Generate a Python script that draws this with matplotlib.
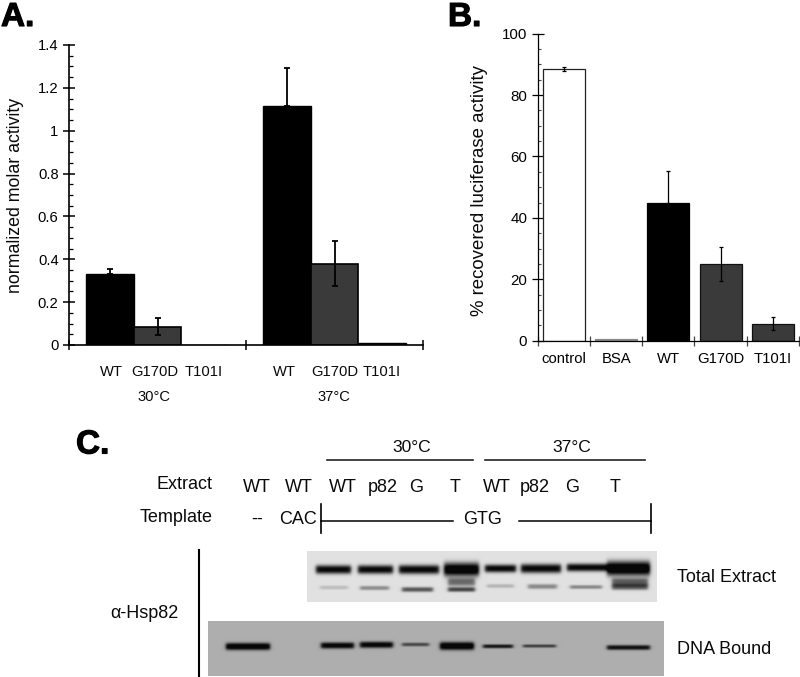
import numpy as np
import matplotlib
matplotlib.use("Agg")
import matplotlib.pyplot as plt
from matplotlib.ticker import MultipleLocator, FixedLocator, FixedFormatter
import matplotlib.patheffects as pe

plt.rcParams['font.family'] = ['Liberation Sans', 'DejaVu Sans']

W, H = 800, 677

# Panel A data
a_wt = [0.33, 1.115]
a_g170d = [0.085, 0.38]
a_t101i = [0.0, 0.01]
a_wt_err = [0.025, 0.18]
a_g170d_err = [0.04, 0.105]
a_ticks = [0, 0.2, 0.4, 0.6, 0.8, 1.0, 1.2, 1.4]
a_ticklabels = ['0', '0.2', '0.4', '0.6', '0.8', '1', '1.2', '1.4']
a_bar_labels = ['WT', 'G170D', 'T101I', 'WT', 'G170D', 'T101I']
a_bar_label_x = [111, 155, 204, 284, 335, 381.7]
a_temps = ['30°C', '37°C']
a_temp_x = [154, 334]

# Panel B data
b_cats = ['control', 'BSA', 'WT', 'G170D', 'T101I']
b_vals = [88.5, 0.5, 44.8, 25.0, 5.6]
b_errs = [0.5, 0.0, 10.5, 5.5, 2.2]
b_colors = ['white', '#8a8a8a', 'black', '#3a3a3a', '#3a3a3a']
b_ticks = [0, 20, 40, 60, 80, 100]

# Panel C labels
c_extract = ['WT', 'WT', 'WT', 'p82', 'G', 'T', 'WT', 'p82', 'G', 'T']
c_extract_x = [256.7, 299, 342.7, 382.7, 416, 455, 496.7, 534.3, 572, 615]

# Blot bands: x0, x1, y centre, half height, strength
total_bands = [
    (316, 351, 569.5, 4.4, 1.0), (358, 393, 569.5, 4.4, 1.0), (399, 439, 569.5, 4.6, 1.0),
    (444, 479, 569.5, 6.8, 1.15), (485, 516, 568.5, 4.0, 1.0), (521, 561, 568.5, 4.6, 1.0),
    (567, 607, 567.5, 4.0, 1.0), (607, 650, 568.5, 7.2, 1.2),
    (320, 348, 587.5, 2.0, 0.16), (360, 389, 588, 2.2, 0.38), (402, 433, 589.5, 2.5, 0.62),
    (448, 475, 582, 4.2, 0.55), (448, 475, 589.5, 2.4, 0.7),
    (487, 514, 586, 2.0, 0.2), (528, 557, 586.5, 2.5, 0.4), (570, 602, 587, 2.0, 0.4),
    (612, 648, 582, 4.0, 0.6), (612, 648, 587, 3.0, 0.6),
]
dna_bands = [
    (226, 270, 646.5, 3.6, 1.15), (321, 354, 645.5, 3.2, 1.05), (360, 393, 644.8, 3.2, 1.05),
    (402, 429, 644.5, 1.9, 0.6), (440, 474, 646, 4.0, 1.2), (483, 513, 646.3, 2.0, 0.9),
    (523, 556, 646, 1.7, 0.65), (607, 650, 647.5, 2.5, 0.95),
]


def blot(x0, x1, y0, y1, bg, bands, ink):
    xs = np.arange(x0, x1) + 0.5
    ys = np.arange(y0, y1) + 0.5
    X, Y = np.meshgrid(xs, ys)
    cover = np.zeros_like(X)
    for bx0, bx1, yc, hh, s in bands:
        px = 0.5 * (np.tanh((X - bx0) / 2.0) - np.tanh((X - bx1) / 2.0))
        py = np.exp(-np.abs((Y - yc) / hh) ** 2.5)
        cover += s * px * py
    cover = np.clip(cover, 0, 1)
    return bg + (ink - bg) * cover


fig = plt.figure(figsize=(W / 100, H / 100), dpi=100, facecolor='white')


def px_axes(l, r, t, b):
    return fig.add_axes([l / W, 1 - b / H, (r - l) / W, (b - t) / H])


# Panel A
axa = px_axes(69, 423, 45, 345)
axa.set_xlim(0, 2)
axa.set_ylim(0, 1.4)
bw = 0.268
for g in range(2):
    c = g + 0.5
    axa.bar(c - bw, a_wt[g], bw, color='black', edgecolor='black', lw=1.0, zorder=2)
    axa.bar(c, a_g170d[g], bw, color='#3a3a3a', edgecolor='black', lw=1.2, zorder=2)
    axa.bar(c + bw, a_t101i[g], bw, color='#3a3a3a', edgecolor='black', lw=1.0, zorder=2)
    axa.errorbar(c - bw, a_wt[g], yerr=[[0], [a_wt_err[g]]], color='black', lw=1.3,
                 capsize=2.0, capthick=1.3, zorder=3)
    axa.errorbar(c, a_g170d[g], yerr=a_g170d_err[g], color='black', lw=1.3,
                 capsize=2.0, capthick=1.3, zorder=3)
for s in ['top', 'right']:
    axa.spines[s].set_visible(False)
axa.spines['left'].set_linewidth(1.2)
axa.spines['bottom'].set_linewidth(1.2)
axa.yaxis.set_major_locator(FixedLocator(a_ticks))
axa.yaxis.set_major_formatter(FixedFormatter(a_ticklabels))
axa.yaxis.set_minor_locator(MultipleLocator(0.05))
axa.tick_params(axis='y', which='major', direction='inout', length=8, width=1.1,
                labelsize=10.6, pad=3.5)
axa.tick_params(axis='y', which='minor', direction='in', length=2.6, width=0.9)
axa.set_xticks([0, 1, 2])
axa.set_xticklabels([])
axa.tick_params(axis='x', which='major', direction='inout', length=7, width=1.1)

# Panel B
axb = px_axes(537.7, 799, 33.7, 340.7)
axb.set_xlim(0, 5)
axb.set_ylim(0, 100)
xb = np.arange(5) + 0.5
edgecols = ['#222222', '#8a8a8a', 'black', '#111111', '#111111']
axb.bar(xb, b_vals, 0.80, color=b_colors, edgecolor=edgecols, lw=0.9, zorder=2)
idx = [0, 2, 3, 4]
errs = np.array(b_errs)[idx]
axb.errorbar(xb[idx], np.array(b_vals)[idx],
             yerr=[errs * [1, 0, 1, 1], errs],
             fmt='none', ecolor='black', lw=0.9, capsize=1.4, capthick=0.9, zorder=3)
for s in ['top', 'right']:
    axb.spines[s].set_visible(False)
axb.spines['left'].set_linewidth(0.9)
axb.spines['bottom'].set_linewidth(0.9)
axb.set_yticks(b_ticks)
axb.yaxis.set_minor_locator(MultipleLocator(5))
axb.tick_params(axis='y', which='major', direction='inout', length=8, width=0.9,
                labelsize=10.9, pad=3.5)
axb.tick_params(axis='y', which='minor', direction='in', length=1.8, width=0.8, color='#444444')
axb.set_xticks(np.arange(6))
axb.set_xticklabels([])
axb.set_xticks(xb, minor=True)
axb.set_xticklabels(b_cats, minor=True, fontsize=10.7)
axb.tick_params(axis='x', which='minor', length=0, pad=8)
axb.tick_params(axis='x', which='major', direction='inout', length=7, width=0.9, color='#444444')

# Overlay in pixel coordinates for labels and blots
ov = fig.add_axes([0, 0, 1, 1], facecolor='none')
ov.set_xlim(0, W)
ov.set_ylim(H, 0)
ov.axis('off')


def lab(x, y, s, size=13, ha='center', **kw):
    return ov.text(x, y, s, fontsize=size, ha=ha, va='center', color='#0a0a0a', **kw)


# Panel letters
for x, y, s in [(1, 26, 'A.'), (448, 26, 'B.'), (76, 453.5, 'C.')]:
    t = ov.text(x, y, s, fontsize=24, fontweight='bold', ha='left', va='baseline', color='black')
    t.set_path_effects([pe.withStroke(linewidth=0.8, foreground='black')])

# Axis titles
lab(16, 195, 'normalized molar activity', 12.8, rotation=90)
lab(479, 190.5, '% recovered luciferase activity', 13.4, rotation=90)

# Panel A group labels
for x, s in zip(a_bar_label_x, a_bar_labels):
    lab(x, 372, s, 10.6)
for x, s in zip(a_temp_x, a_temps):
    lab(x, 397, s, 10.6)

# Panel C labels
lab(212.7, 484.5, 'Extract', 13, ha='right')
lab(212.7, 517, 'Template', 13, ha='right')
for x, s in zip(c_extract_x, c_extract):
    lab(x, 487, s, 13)
lab(256.7, 519, '--', 13)
lab(298, 519.5, 'CAC', 13)
lab(483, 519.5, 'GTG', 13)
lab(411.7, 447, '30°C', 12.6)
lab(572.3, 447, '37°C', 12.6)
lab(677, 577, 'Total Extract', 13, ha='left')
lab(677, 649, 'DNA Bound', 13, ha='left')
lab(144.8, 613, 'α-Hsp82', 13)

# Panel C rules
ov.plot([327, 472.7], [460.3, 460.3], color='#222222', lw=1.2)
ov.plot([485, 644.7], [460.3, 460.3], color='#222222', lw=1.2)
ov.plot([320.7, 452.7], [520.7, 520.7], color='black', lw=1.1)
ov.plot([519.3, 651], [520.7, 520.7], color='black', lw=1.1)
ov.plot([320.7, 320.7], [504, 533], color='black', lw=1.2)
ov.plot([651, 651], [504, 533], color='black', lw=1.2)
ov.plot([198.6, 198.6], [550, 677], color='black', lw=1.5)

# Blots
img1 = blot(307, 657, 551, 602, 0.88, total_bands, 0.03)
img2 = blot(208, 664, 621, 676, 0.68, dna_bands, 0.03)
ov.imshow(img1, extent=(307, 657, 602, 551), cmap='gray', vmin=0, vmax=1, aspect='auto',
          interpolation='bilinear')
ov.imshow(img2, extent=(208, 664, 676, 621), cmap='gray', vmin=0, vmax=1, aspect='auto',
          interpolation='bilinear')
ov.set_xlim(0, W)
ov.set_ylim(H, 0)

fig.savefig('out.png', dpi=100, facecolor='white')
